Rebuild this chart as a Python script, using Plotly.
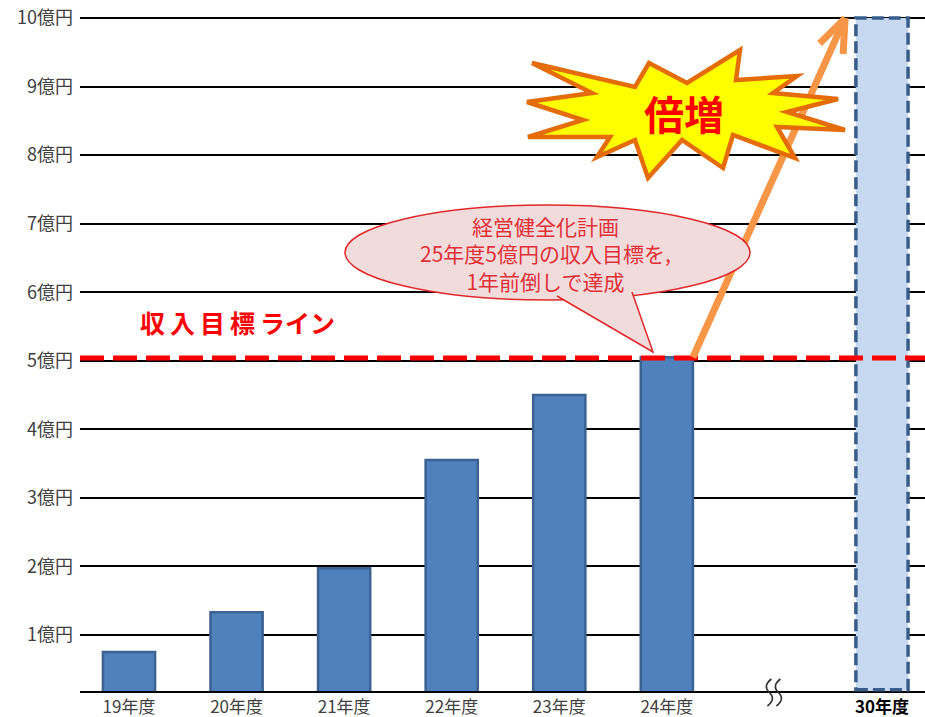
import math
import plotly.graph_objects as go

# ---------------- data ----------------
years = ["19年度", "20年度", "21年度", "22年度", "23年度", "24年度"]
revenue = [0.75, 1.33, 1.97, 3.55, 4.5, 5.05]          # 億円
target_label = "30年度"
target_value = 10                                       # 億円 (倍増)
goal_value = 5                                          # 収入目標ライン
y_ticks = list(range(1, 11))
y_tick_labels = [f"{v}億円" for v in y_ticks]

# ---------------- layout helpers ----------------
W, H = 925, 717
L, R, T, B = 80, 0, 14, 26
PW, PH = W - L - R, H - T - B
YR = [0.18, 10.06]
XR = [-0.4555, 7.40]
BAR_W = 0.485
FONT = "Noto Sans CJK JP"


def px(x):
    return (x - L) / PW


def py(y):
    return (H - B - y) / PH


def dx(v):
    return (v - XR[0]) / (XR[1] - XR[0])


def dy(v):
    return (v - YR[0]) / (YR[1] - YR[0])


def pt(x, y):
    return f"{px(x):.5f},{py(y):.5f}"


x_pos = list(range(len(years)))
gap_pos = len(years)
target_pos = gap_pos + 1

fig = go.Figure()
fig.add_trace(go.Bar(
    x=x_pos, y=revenue, width=BAR_W,
    marker=dict(color="#4f81bd", line=dict(color="#3b6291", width=2.5)),
    hoverinfo="skip", showlegend=False,
))
fig.add_trace(go.Bar(
    x=[target_pos], y=[target_value], width=BAR_W,
    marker=dict(color="#c6d9f1", line=dict(width=0)),
    hoverinfo="skip", showlegend=False,
))

shapes = []
# dashed outline of the 30年度 bar
shapes.append(dict(
    type="rect", xref="paper", yref="paper",
    x0=dx(target_pos - BAR_W / 2), x1=dx(target_pos + BAR_W / 2),
    y0=dy(YR[0]) + 0.002, y1=dy(target_value),
    line=dict(color="#385d8a", width=3.5, dash="12px,5px"),
    fillcolor="rgba(0,0,0,0)", layer="above",
))
# goal line
shapes.append(dict(
    type="line", xref="paper", yref="y", x0=0, x1=1,
    y0=goal_value + 0.04, y1=goal_value + 0.04,
    line=dict(color="#ff0000", width=5, dash="24px,9px"), layer="above",
))

# axis break mark (wavy lines) at the gap position
gx = L + dx(gap_pos) * PW
for off in (-5, 4):
    x = gx + off
    wave = (f"M {pt(x + 2, 679)} Q {pt(x - 7, 686)} {pt(x, 692.5)} "
            f"Q {pt(x + 7, 699)} {pt(x - 2, 706)}")
    shapes.append(dict(
        type="path", xref="paper", yref="paper", path=wave,
        line=dict(color="#333333", width=1.6), layer="above",
    ))

# orange arrow (from top of last bar to top of target bar)
ax0 = L + dx(x_pos[-1] + BAR_W / 2) * PW
ay0 = T + (1 - dy(revenue[-1])) * PH
ax1 = L + dx(target_pos - BAR_W / 2 - 0.1) * PW
ay1 = T + (1 - dy(target_value)) * PH
ORANGE = "#f79646"
shapes.append(dict(
    type="line", xref="paper", yref="paper",
    x0=px(ax0), y0=py(ay0), x1=px(ax1), y1=py(ay1),
    line=dict(color=ORANGE, width=7), layer="above",
))
ang = math.atan2(ay0 - ay1, ax0 - ax1)
for s in (-1, 1):
    a = ang + s * math.radians(21)
    ex, ey = ax1 + 36 * math.cos(a), ay1 + 36 * math.sin(a)
    shapes.append(dict(
        type="line", xref="paper", yref="paper",
        x0=px(ax1), y0=py(ay1), x1=px(ex), y1=py(ey),
        line=dict(color=ORANGE, width=7), layer="above",
    ))

# starburst
star = [(532, 63), (635, 87), (649, 63), (687, 83), (740, 50), (736, 80),
        (797, 76), (773, 93), (838, 99), (787, 112), (845, 130), (777, 127),
        (795, 158), (733, 135), (723, 168), (682, 140), (648, 178), (635, 140),
        (597, 157), (610, 137), (528, 137), (583, 120), (527, 102), (592, 93)]
path = "M " + " L ".join(pt(x, y) for x, y in star) + " Z"
shapes.append(dict(
    type="path", xref="paper", yref="paper", path=path,
    fillcolor="#ffff00", line=dict(color="#e46c0a", width=4.5), layer="above",
))

# speech bubble
BUB_FILL = "#f2dcdb"
BUB_LINE = "#e0282a"
shapes.append(dict(
    type="circle", xref="paper", yref="paper",
    x0=px(345), x1=px(750), y0=py(300), y1=py(205),
    fillcolor=BUB_FILL, line=dict(color=BUB_LINE, width=1.5), layer="above",
))
tail = [(557, 296), (653, 352), (632, 292)]
tp = "M " + " L ".join(pt(x, y) for x, y in tail)
shapes.append(dict(
    type="path", xref="paper", yref="paper", path=tp + " Z",
    fillcolor=BUB_FILL, line=dict(width=0), layer="above",
))
shapes.append(dict(
    type="path", xref="paper", yref="paper", path=tp,
    line=dict(color=BUB_LINE, width=1.5), layer="above",
))

annotations = [
    dict(text="<b>収\u2009入\u2009目\u2009標\u2009ライン</b>", xref="paper", yref="paper",
         x=px(237), y=py(322), xanchor="center", yanchor="middle", showarrow=False,
         font=dict(family=FONT, size=25, color="#ff0000")),
    dict(text="<b>倍増</b>", xref="paper", yref="paper",
         x=px(684), y=py(113), xanchor="center", yanchor="middle", showarrow=False,
         font=dict(family=FONT, size=40, color="#ff0000")),
    dict(text="経営健全化計画<br>25年度5億円の収入目標を,<br>1年前倒しで達成",
         xref="paper", yref="paper", x=px(545), y=py(253),
         xanchor="center", yanchor="middle", showarrow=False,
         font=dict(family=FONT, size=21, color="#e0303a")),
]

fig.update_layout(
    width=W, height=H,
    margin=dict(l=L, r=R, t=T, b=B, pad=0),
    paper_bgcolor="white", plot_bgcolor="white",
    bargap=0.5,
    shapes=shapes, annotations=annotations,
    xaxis=dict(
        range=XR, tickmode="array",
        tickvals=x_pos + [target_pos],
        ticktext=years + [f"<span style='color:#000000'><b>{target_label}</b></span>"],
        tickfont=dict(family=FONT, size=17, color="#404040"),
        showgrid=False, zeroline=False, showline=True,
        linecolor="#000000", linewidth=2, ticks="", fixedrange=True,
    ),
    yaxis=dict(
        range=YR, tickmode="array", tickvals=y_ticks, ticktext=y_tick_labels,
        tickfont=dict(family=FONT, size=18, color="#404040"),
        showgrid=True, gridcolor="#000000", gridwidth=2,
        zeroline=False, showline=False, ticks="", ticklabelstandoff=6,
        fixedrange=True,
    ),
)

fig.write_html("out.html", config={"displayModeBar": False},
               post_script="document.body.style.margin='0px';")
